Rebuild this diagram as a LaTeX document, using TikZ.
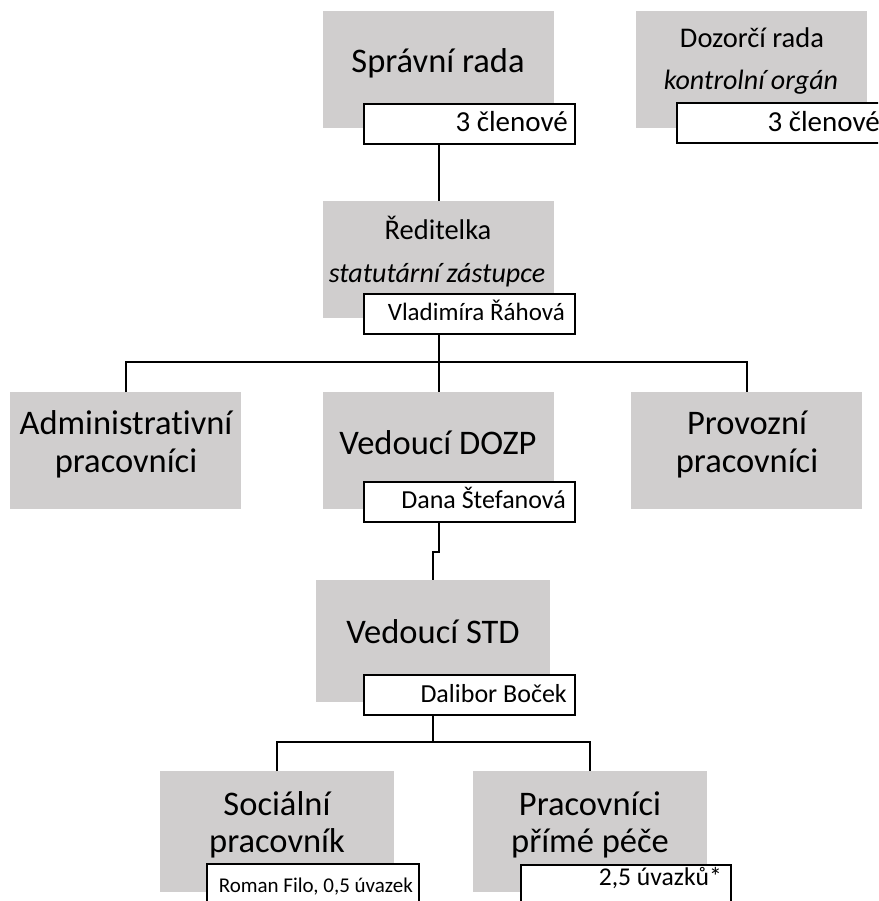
\documentclass[tikz,border=0pt]{standalone}
\usepackage{fontspec}
\setmainfont{Carlito}[RawFeature={-liga;-clig;-calt;-dlig}]
\definecolor{boxgray}{HTML}{D0CECE}
\begin{document}
\begin{tikzpicture}[x=1pt,y=-1pt,
  gbox/.style={fill=boxgray, draw=none, inner sep=0pt, anchor=north west, minimum width=231pt, minimum height=117pt},
  lbox/.style={fill=white, draw=black, line width=2.4pt, inner sep=0pt, anchor=north west, minimum width=211pt, minimum height=40pt},
  conn/.style={line width=2.4pt, draw=black},
  big/.style={font=\fontsize{34.5}{38}\selectfont, anchor=base, inner sep=0pt},
  mid/.style={font=\fontsize{28.5}{32}\selectfont, anchor=base, inner sep=0pt},
  midit/.style={font=\fontsize{28}{32}\itshape\selectfont, anchor=base, inner sep=0pt},
  lab/.style={font=\fontsize{26}{30}\selectfont, anchor=base east, inner sep=0pt},
]
\useasboundingbox (0,0) rectangle (878,901);
\clip (0,0) rectangle (878,901);

% gray boxes
\node[gbox] (spr) at (323,11) {};
\node[gbox] (doz) at (636,11) {};
\node[gbox] (red) at (323,201) {};
\node[gbox] (adm) at (10,392) {};
\node[gbox] (dozp) at (323,392) {};
\node[gbox] (prov) at (631,392) {};
\node[gbox, minimum width=234pt, minimum height=122pt] (std) at (316,580) {};
\node[gbox, minimum width=234pt, minimum height=121pt] (soc) at (160,771) {};
\node[gbox, minimum width=234pt, minimum height=121pt] (pp) at (473,771) {};

% texts in gray boxes
\node[big] (tspr) at (438,73) {Správní rada};
\node[mid] (tdoz1) at (752,48) {Dozorčí rada};
\node[midit] (tdoz2) at (751,90) {kontrolní orgán};
\node[mid] (tred1) at (438,240) {Ředitelka};
\node[midit] (tred2) at (437,282) {statutární zástupce};
\node[big] (tadm1) at (126,434) {Administrativní};
\node[big] (tadm2) at (126,472) {pracovníci};
\node[big] (tdozp) at (438,454) {Vedoucí DOZP};
\node[big] (tprov1) at (747,434) {Provozní};
\node[big] (tprov2) at (747,472) {pracovníci};
\node[big] (tstd) at (433,643) {Vedoucí STD};
\node[big] (tsoc1) at (277,815) {Sociální};
\node[big] (tsoc2) at (277,852) {pracovník};
\node[big] (tpp1) at (590,815) {Pracovníci};
\node[big] (tpp2) at (590,852) {přímé péče};

% connectors
\coordinate (hb) at (438,362);
\coordinate (hb2) at (434,742);
\draw[conn] (spr.south |- 0,143) -- (red.north);
\draw[conn] (red.south |- 0,334) -- (dozp.north);
\draw[conn] (adm.north) -- (adm.north |- hb) -- (prov.north |- hb) -- (prov.north);
\draw[conn] (dozp.south |- 0,522) -- ++(0,30) -| (std.north);
\draw[conn] (std.south |- 0,713) -- (std.south |- hb2);
\draw[conn] (soc.north) -- (soc.north |- hb2) -- (pp.north |- hb2) -- (pp.north);

% label boxes
\node[lbox] (lspr) at (363,103) {};
\node[lbox, minimum width=240pt] (ldoz) at (676,102) {};
\node[lbox] (lred) at (363,293) {};
\node[lbox] (ldozp) at (363,481) {};
\node[lbox] (lstd) at (363,674) {};
\node[lbox, minimum width=212pt, minimum height=60pt] (lsoc) at (206,863) {};
\node[lbox, minimum width=210pt, minimum height=60pt] (lpp) at (520,864) {};

% label texts
\node[lab, font=\fontsize{29}{32}\selectfont] (xspr) at (568,132) {3 členové};
\node[lab, font=\fontsize{29}{32}\selectfont] (xdoz) at (880,132) {3 členové};
\node[lab, font=\fontsize{25}{30}\selectfont] (xred) at (565,320) {Vladimíra Řáhová};
\node[lab] (xdozp) at (566,508) {Dana Štefanová};
\node[lab] (xstd) at (567,702) {Dalibor Boček};
\node[lab, font=\fontsize{21}{26}\selectfont] (xsoc) at (413,892) {Roman Filo, 0,5 úvazek};
\node[lab, font=\fontsize{25.6}{30}\selectfont] (xpp) at (722,885) {2,5 úvazků*};
\end{tikzpicture}
\end{document}
